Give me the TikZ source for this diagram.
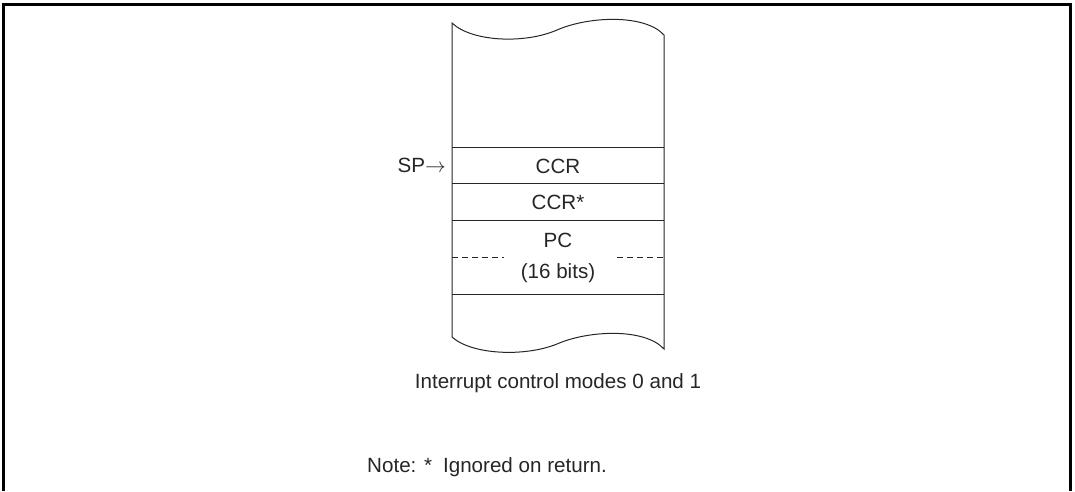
\documentclass[tikz,border=0pt]{standalone}
\usepackage{fontspec}
\setmainfont{Liberation Sans}
\begin{document}
\begin{tikzpicture}[x=1pt,y=-1pt,
  wall/.style={line width=1pt, black!85},
  frame/.style={line width=2.6pt},
  lbl/.style={font=\fontsize{20.6}{24}\selectfont, inner sep=0pt, text=black!85},
  dashline/.style={line width=1pt, black!85, dash pattern=on 6pt off 4pt}]
\useasboundingbox (0,0) rectangle (1075,491);
% outer frame (open at the bottom)
\draw[frame] (3.6,491) -- (3.6,4.6) -- (1070.2,4.6) -- (1070.2,491);
% stack body
\draw[wall] (452,23) .. controls (472,42) and (525,44) .. (557,30)
             .. controls (589,16) and (645,14) .. (664,35)
             -- (664,349)
             .. controls (645,328) and (589,330) .. (557,344)
             .. controls (525,357) and (472,355) .. (452,337) -- cycle;
\foreach \yy in {147,183,220,294} \draw[wall] (452,\yy) -- (664,\yy);
\draw[dashline] (452,257) -- (504,257);
\draw[dashline] (617,257) -- (664,257);
% labels
\node[lbl] (ccr) at (558,166) {CCR};
\node[lbl] (ccrs) at (558,202) {CCR*};
\node[lbl] (pc) at (558,240) {PC};
\node[lbl] (bits) at (558,273) {(16 bits)};
\node[lbl, anchor=east] (sp) at (446,165) {SP$\rightarrow$};
\node[lbl] (cap) at (558,383) {Interrupt control modes 0 and 1};
\node[lbl, anchor=west] (note) at (367,467) {Note: *\hspace{11pt}Ignored on return.};
\end{tikzpicture}
\end{document}
